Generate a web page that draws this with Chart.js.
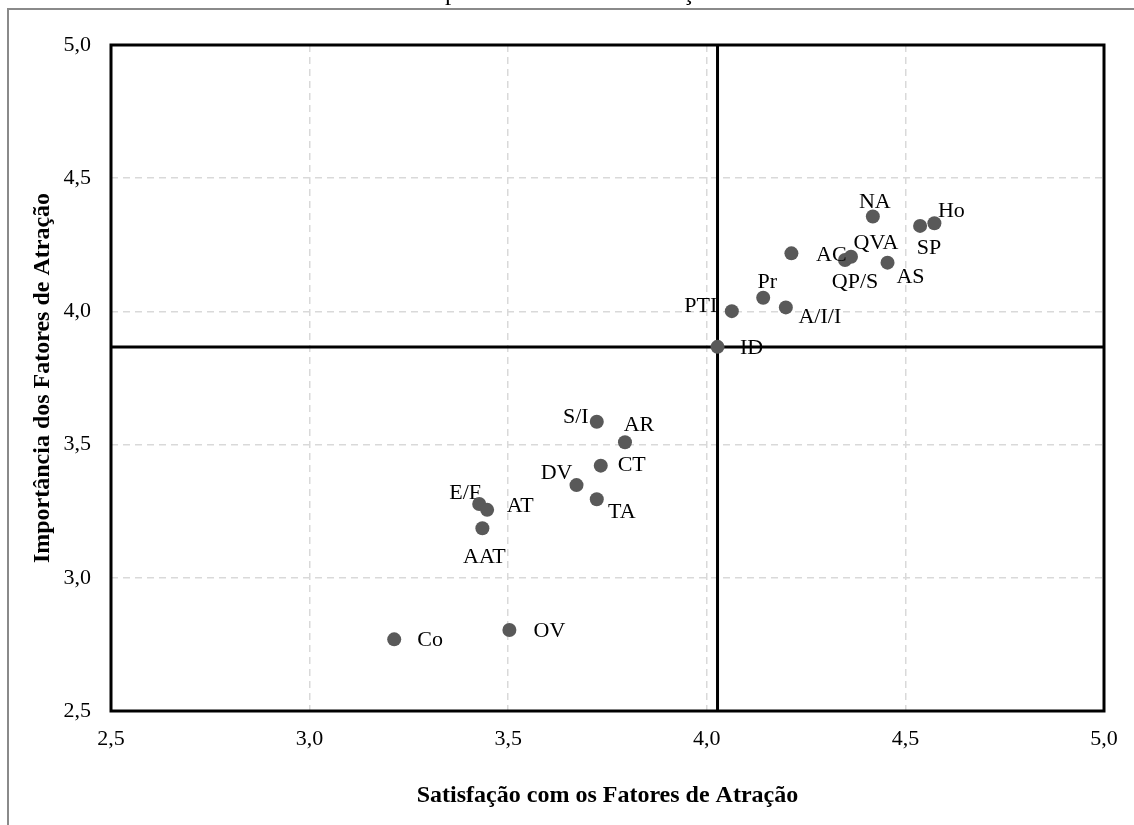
<!DOCTYPE html>
<html><head><meta charset="utf-8">
<script src="https://cdn.jsdelivr.net/npm/chart.js@4.4.0/dist/chart.umd.min.js"></script>
<style>
html,body{margin:0;padding:0;background:#fff;overflow:hidden;}
#frame{position:absolute;left:7px;top:8px;width:2000px;height:2000px;border-left:2px solid #8a8a8a;border-top:2px solid #8a8a8a;}
#c{position:absolute;left:0;top:0;}
</style></head><body>
<div id="frame"></div>
<canvas id="c" width="1134" height="825"></canvas>
<script>
// ---- data ----
const pointLabels = ['Co','OV','AAT','E/F','AT','S/I','AR','CT','DV','TA','ID','PTI','Pr','A/I/I','AC','QP/S','QVA','NA','AS','SP','Ho'];
const satisfacao  = [3.213,3.503,3.435,3.427,3.447,3.723,3.794,3.733,3.672,3.723,4.027,4.063,4.142,4.199,4.213,4.348,4.363,4.418,4.455,4.537,4.573];
const importancia = [2.769,2.804,3.186,3.277,3.255,3.586,3.509,3.421,3.348,3.295,3.867,4.001,4.051,4.015,4.218,4.193,4.205,4.356,4.183,4.321,4.331];
const meanSatisfacao = 4.027;
const meanImportancia = 3.866;
const axisMin = 2.5, axisMax = 5.0, axisStep = 0.5;
const xTitle = 'Satisfação com os Fatores de Atração';
const yTitle = 'Importância dos Fatores de Atração';
const chartTitle = 'Importância versus Satisfação';

// label placement (pixel offsets from point centre) – layout only
const labelOffsets = [[36,1],[40,1],[2,29],[-14,-11],[33,-4],[-21,-4],[14,-17],[31,0],[-20,-12],[25,13],[34,1],[-31,-5],[4,-16],[34,10],[40,2],[10,22],[25,-14],[2,-14],[23,15],[9,22],[17,-12]];

const SERIF = '"Liberation Serif", "Times New Roman", serif';
const fmt = v => v.toFixed(1).replace('.', ',');

const points = satisfacao.map((x, i) => ({x, y: importancia[i]}));

const decor = {
  id: 'decor',
  afterDatasetsDraw(chart) {
    const ctx = chart.ctx, ca = chart.chartArea;
    ctx.save();
    // plot border
    ctx.strokeStyle = '#000'; ctx.lineWidth = 3;
    ctx.strokeRect(ca.left, ca.top, ca.right - ca.left, ca.bottom - ca.top);
    // point labels
    const meta = chart.getDatasetMeta(2);
    ctx.fillStyle = '#000';
    ctx.font = '22px ' + SERIF;
    ctx.textAlign = 'center'; ctx.textBaseline = 'middle';
    meta.data.forEach((el, i) => {
      const o = labelOffsets[i] || [0, 0];
      ctx.fillText(pointLabels[i], el.x + o[0], el.y + o[1]);
    });
    // axis titles
    ctx.font = 'bold 24px ' + SERIF;
    ctx.fillText(xTitle, (ca.left + ca.right) / 2, 796);
    ctx.save();
    ctx.translate(43, (ca.top + ca.bottom) / 2);
    ctx.rotate(-Math.PI / 2);
    ctx.fillText(yTitle, 0, 0);
    ctx.restore();
    // clipped chart title (only descenders visible)
    ctx.font = '25px ' + SERIF;
    ctx.textAlign = 'left'; ctx.textBaseline = 'alphabetic';
    const pre = ctx.measureText('Im').width;
    ctx.fillText(chartTitle, 445 - pre, 0);
    ctx.restore();
  }
};

new Chart(document.getElementById('c'), {
  type: 'scatter',
  data: {
    datasets: [
      { type: 'line', data: [{x: meanSatisfacao, y: axisMin}, {x: meanSatisfacao, y: axisMax}],
        borderColor: '#000', borderWidth: 3, pointRadius: 0, fill: false, order: 2 },
      { type: 'line', data: [{x: axisMin, y: meanImportancia}, {x: axisMax, y: meanImportancia}],
        borderColor: '#000', borderWidth: 3, pointRadius: 0, fill: false, order: 2 },
      { data: points, backgroundColor: '#595959', borderWidth: 0, pointRadius: 7, order: 1 }
    ]
  },
  options: {
    responsive: false, animation: false,
    layout: { padding: { left: 0, top: 45, right: 30, bottom: 0 } },
    plugins: { legend: { display: false }, tooltip: { enabled: false } },
    scales: {
      x: {
        type: 'linear', min: axisMin, max: axisMax,
        afterFit: s => { s.height = 114; },
        border: { display: false, dash: [7, 5] },
        grid: { color: '#d9d9d9', lineWidth: 1.5, drawTicks: false },
        ticks: { stepSize: axisStep, color: '#000', padding: 15, font: { family: SERIF, size: 22 }, callback: v => fmt(v) }
      },
      y: {
        type: 'linear', min: axisMin, max: axisMax,
        afterFit: s => { s.width = 111; },
        border: { display: false, dash: [7, 5] },
        grid: { color: '#d9d9d9', lineWidth: 1.5, drawTicks: false },
        ticks: { stepSize: axisStep, color: '#000', padding: 20, font: { family: SERIF, size: 22 }, callback: v => fmt(v) }
      }
    }
  },
  plugins: [decor]
});
</script>
</body></html>
